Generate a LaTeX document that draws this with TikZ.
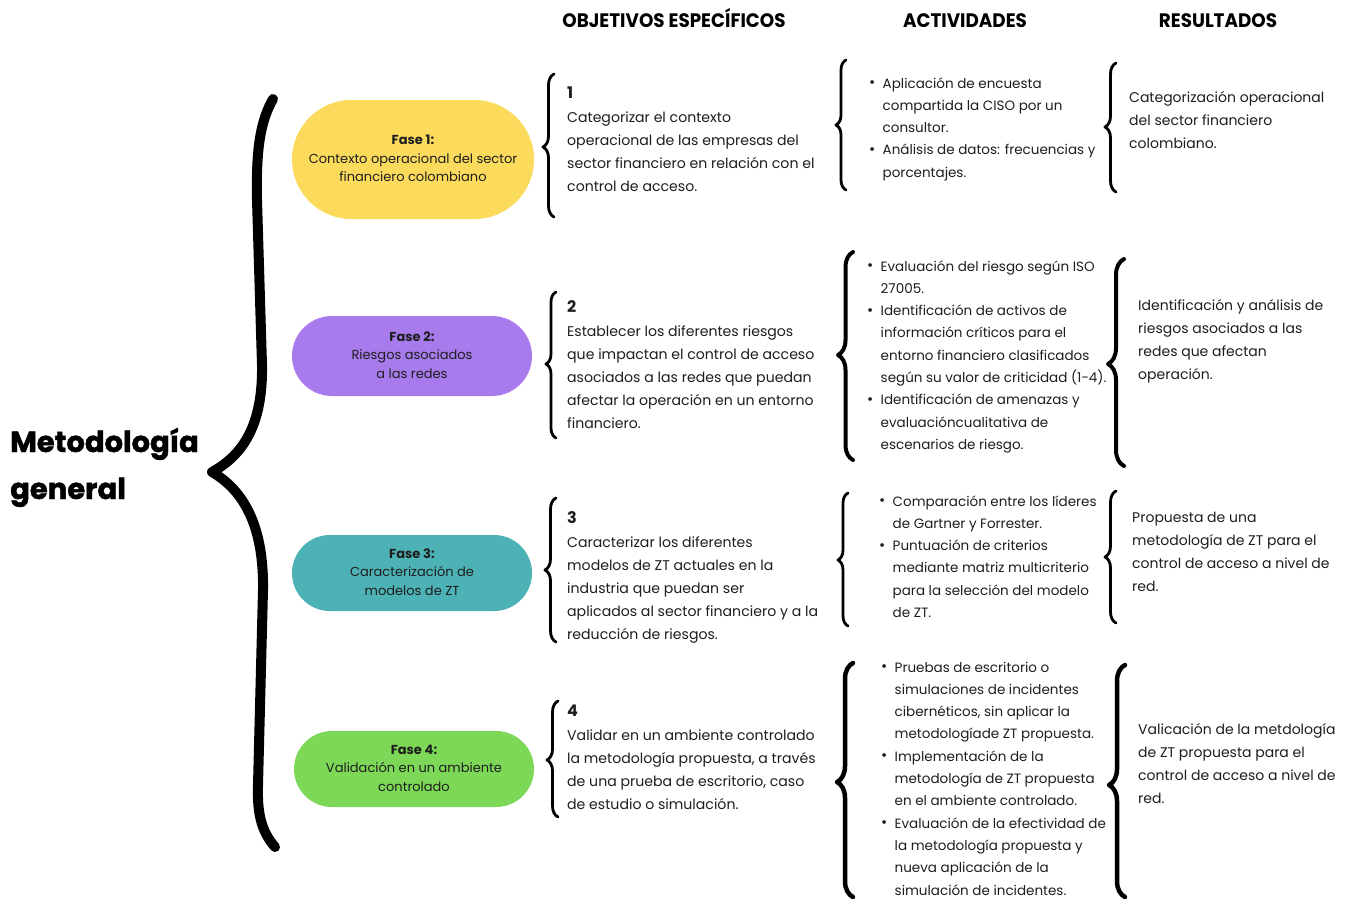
\documentclass[tikz,border=0pt]{standalone}
\usepackage{fontspec}
\setmainfont{Poppins}
\usetikzlibrary{decorations.pathreplacing,shapes.misc}

\definecolor{faseuno}{RGB}{252,219,92}
\definecolor{fasedos}{RGB}{167,123,235}
\definecolor{fasetres}{RGB}{76,178,181}
\definecolor{fasecuatro}{RGB}{124,216,86}
\definecolor{ink}{RGB}{30,30,30}

% a block of lines whose reference point is the first baseline
\newcommand\blk[1]{\begin{tabular}[t]{@{}l@{}}#1\end{tabular}}
% a bulleted block: first column holds the bullets
\newcommand\bblk[1]{\begin{tabular}[t]{@{}l@{}l@{}}#1\end{tabular}}
\newcommand\bul{\makebox[13.5pt][l]{\raisebox{0.3pt}{\fontsize{15}{15}\selectfont •}}}
% objective number
\newcommand\num[1]{{\bfseries\fontsize{16}{23}\selectfont #1}}
% curly brace: end x, top y, bottom y, tip y, amplitude, line width
\newcommand\cbrace[6]{%
  \pgfmathsetmacro\bAsp{(#3-#4)/(#3-#2)}%
  \draw[line width=#6, line cap=round, line join=round, decorate,
        decoration={brace, amplitude=#5pt, aspect=\bAsp}] (#1,#3) -- (#1,#2);}

\begin{document}
\begin{tikzpicture}[x=1pt, y=-1pt,
  head/.style={anchor=base, inner sep=0pt, font=\bfseries\fontsize{19.5}{19.5}\selectfont},
  pill/.style={rounded rectangle, inner sep=0pt, text=ink,
               font=\fontsize{13}{18.5}\selectfont},
  body/.style={anchor=base west, inner sep=0pt, text=ink,
               font=\fontsize{14.1}{23}\selectfont},
  res/.style={anchor=base west, inner sep=0pt, text=ink,
               font=\fontsize{14}{23.3}\selectfont},
  acts/.style={anchor=base west, inner sep=0pt, text=ink,
               font=\fontsize{13.5}{22.3}\selectfont}]

\useasboundingbox[fill=white] (0,0) rectangle (1348,899);

% column headings
\node[head] (hobj) at (674,28) {\scalebox{0.94}[1]{OBJETIVOS ESPECÍFICOS}};
\node[head] (hact) at (965,28) {\scalebox{0.94}[1]{ACTIVIDADES}};
\node[head] (hres) at (1218,28) {\scalebox{0.94}[1]{RESULTADOS}};

% main title and its big brace
\node[anchor=base west, inner sep=0pt,
      font=\bfseries\fontsize{29}{47}\selectfont\addfontfeature{FakeBold=1.6}]
  (titulo) at (10,452) {\blk{Metodología\\general}};
\draw[line width=10pt, line cap=round, line join=round]
  (273,99) .. controls (260,122) and (256,150) .. (257,200)
  -- (262,365) .. controls (263,425) and (243,455) .. (212,472)
  .. controls (243,490) and (264,525) .. (263,590)
  -- (258,785) .. controls (257,815) and (262,832) .. (275,847);

% phases
\node[pill, fill=faseuno, minimum width=242pt, minimum height=119pt] (f1) at (413,159.5)
  {\begin{tabular}{@{}c@{}}\textbf{Fase 1:}\\Contexto operacional del sector\\financiero colombiano\end{tabular}};
\node[pill, fill=fasedos, minimum width=240pt, minimum height=80pt] (f2) at (412,356)
  {\begin{tabular}{@{}c@{}}\textbf{Fase 2:}\\Riesgos asociados\\a las redes\end{tabular}};
\node[pill, fill=fasetres, minimum width=240pt, minimum height=76pt] (f3) at (412,573)
  {\begin{tabular}{@{}c@{}}\textbf{Fase 3:}\\Caracterización de\\modelos de ZT\end{tabular}};
\node[pill, fill=fasecuatro, minimum width=240pt, minimum height=76pt] (f4) at (414,769)
  {\begin{tabular}{@{}c@{}}\textbf{Fase 4:}\\Validación en un ambiente\\controlado\end{tabular}};

% specific objectives
\cbrace{554}{74}{217}{147}{11}{2.8pt}
\node[body] (o1) at (567,98) {\blk{\num{1}\\[1pt]Categorizar el contexto\\operacional de las empresas del\\sector financiero en relación con el\\control de acceso.}};
\cbrace{556}{292}{438}{364}{10}{2.8pt}
\node[body] (o2) at (567,312) {\blk{\num{2}\\[1pt]Establecer los diferentes riesgos\\que impactan el control de acceso\\asociados a las redes que puedan\\afectar la operación en un entorno\\financiero.}};
\cbrace{556}{498}{642}{570}{11}{2.8pt}
\node[body] (o3) at (567,523) {\blk{\num{3}\\[1pt]Caracterizar los diferentes\\modelos de ZT actuales en la\\industria que puedan ser\\aplicados al sector financiero y a la\\reducción de riesgos.}};
\cbrace{558}{701}{817}{760}{11}{2.8pt}
\node[body] (o4) at (567,716) {\blk{\num{4}\\[1pt]Validar en un ambiente controlado\\la metodología propuesta, a través\\de una prueba de escritorio, caso\\de estudio o simulación.}};

% activities
\cbrace{846}{60}{190}{125}{10}{2.8pt}
\node[acts] (a1) at (869,88) {\bblk{\bul&Aplicación de encuesta\\&compartida la CISO por un\\&consultor.\\\bul&Análisis de datos: frecuencias y\\&porcentajes.}};
\cbrace{853}{252}{460}{355}{15}{4pt}
\node[acts] (a2) at (867,271) {\bblk{\bul&Evaluación del riesgo según ISO\\&27005.\\\bul&Identificación de activos de\\&información críticos para el\\&entorno financiero clasificados\\&según su valor de criticidad (1-4).\\\bul&Identificación de amenazas y\\&evaluacióncualitativa de\\&escenarios de riesgo.}};
\cbrace{848}{493}{626}{560}{10}{2.8pt}
\node[acts] (a3) at (879,506) {\bblk{\bul&Comparación entre los líderes\\&de Gartner y Forrester.\\\bul&Puntuación de criterios\\&mediante matriz multicriterio\\&para la selección del modelo\\&de ZT.}};
\cbrace{853}{663}{897}{782}{16}{4.5pt}
\node[acts] (a4) at (881,672) {\bblk{\bul&Pruebas de escritorio o\\&simulaciones de incidentes\\&cibernéticos, sin aplicar la\\&metodologíade ZT propuesta.\\\bul&Implementación de la\\&metodología de ZT propuesta\\&en el ambiente controlado.\\\bul&Evaluación de la efectividad de\\&la metodología propuesta y\\&nueva aplicación de la\\&simulación de incidentes.}};

% results
\cbrace{1116}{63}{192}{127}{11}{2.8pt}
\node[res] (r1) at (1129,102) {\blk{Categorización operacional\\del sector financiero\\colombiano.}};
\cbrace{1124}{259}{466}{364}{16}{4pt}
\node[res] (r2) at (1138,310) {\blk{Identificación y análisis de\\riesgos asociados a las\\redes que afectan\\operación.}};
\cbrace{1116}{491}{623}{557}{11}{2.8pt}
\node[res] (r3) at (1132,522) {\blk{Propuesta de una\\metodología de ZT para el\\control de acceso a nivel de\\red.}};
\cbrace{1125}{665}{897}{785}{16}{4.5pt}
\node[res] (r4) at (1138,734) {\blk{Valicación de la metdología\\de ZT propuesta para el\\control de acceso a nivel de\\red.}};

\end{tikzpicture}
\end{document}
